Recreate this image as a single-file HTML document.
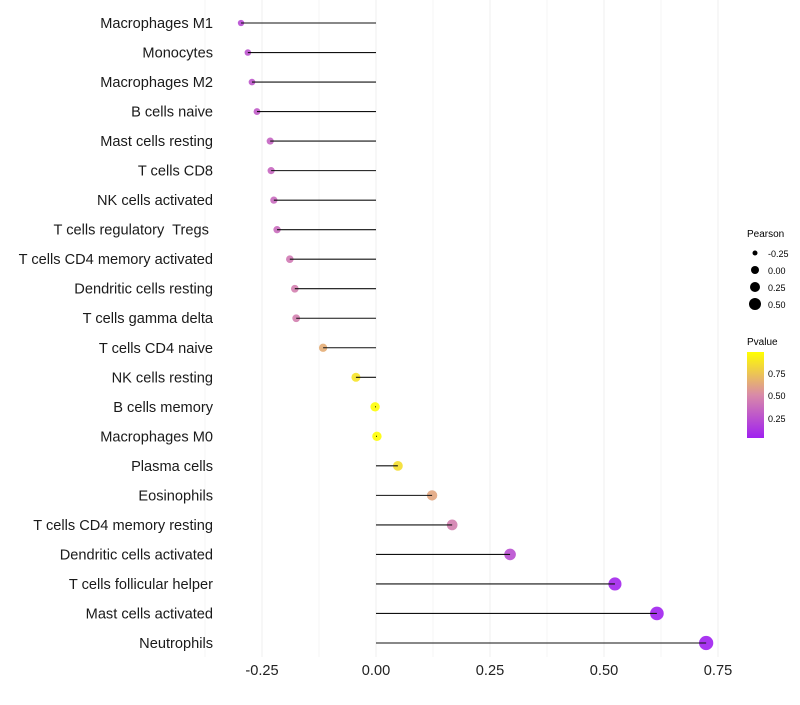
<!DOCTYPE html>
<html><head><meta charset="utf-8"><style>
body{margin:0;background:#fff;font-family:"Liberation Sans",sans-serif}
</style></head><body>
<svg id="chart" width="800" height="700" xmlns="http://www.w3.org/2000/svg" font-family="Liberation Sans, sans-serif">
<defs><linearGradient id="pg" x1="0" y1="1" x2="0" y2="0">
<stop offset="0" stop-color="#a020f0"/><stop offset="0.5" stop-color="#d98aa8"/><stop offset="1" stop-color="#ffff00"/></linearGradient></defs>
<g id="grid"></g>
<g id="marks"></g>
<g id="ylabels"></g>
<g id="xlabels"></g>
<g>
<text x="747" y="237" font-size="10">Pearson</text>
<circle cx="755" cy="253" r="2.5" fill="#000"/><text x="768" y="257" font-size="9">-0.25</text>
<circle cx="755" cy="270" r="4" fill="#000"/><text x="768" y="274" font-size="9">0.00</text>
<circle cx="755" cy="287" r="5" fill="#000"/><text x="768" y="291" font-size="9">0.25</text>
<circle cx="755" cy="304" r="6" fill="#000"/><text x="768" y="308" font-size="9">0.50</text>
</g>
<g>
<text x="747" y="345" font-size="10">Pvalue</text>
<rect x="747" y="352" width="17" height="86" fill="url(#pg)"/>
<text x="768" y="377" font-size="9">0.75</text>
<text x="768" y="399" font-size="9">0.50</text>
<text x="768" y="422" font-size="9">0.25</text>
</g>
</svg>
<script>
const categories=["Macrophages M1","Monocytes","Macrophages M2","B cells naive","Mast cells resting","T cells CD8","NK cells activated","T cells regulatory  Tregs ","T cells CD4 memory activated","Dendritic cells resting","T cells gamma delta","T cells CD4 naive","NK cells resting","B cells memory","Macrophages M0","Plasma cells","Eosinophils","T cells CD4 memory resting","Dendritic cells activated","T cells follicular helper","Mast cells activated","Neutrophils"];
const pearson=[-0.296,-0.281,-0.272,-0.261,-0.232,-0.230,-0.224,-0.217,-0.189,-0.178,-0.175,-0.116,-0.044,-0.002,0.002,0.048,0.123,0.167,0.294,0.524,0.616,0.724];
const pvalues=[0.2,0.24,0.26,0.28,0.32,0.33,0.35,0.36,0.42,0.45,0.45,0.65,0.88,0.99,0.99,0.86,0.62,0.45,0.22,0.03,0.01,0.0];
const xTicks=[-0.25,0,0.25,0.5,0.75];
const xTickLabels=["-0.25","0.00","0.25","0.50","0.75"];
const NS="http://www.w3.org/2000/svg";
const x=v=>376+v*456;
const y=i=>23+i*(620/21);
const rad=v=>Math.sqrt(Math.max(4,22+40*v));
function col(p){const s=[[160,32,240],[217,138,168],[255,255,0]];let t=p*2,a=s[0],b=s[1];if(t>1){t-=1;a=s[1];b=s[2];}
return `rgb(${a.map((c,k)=>Math.round(c+(b[k]-c)*t)).join(",")})`;}
function mk(tag,at,parent){const e=document.createElementNS(NS,tag);for(const k in at)e.setAttribute(k,at[k]);parent.appendChild(e);return e;}
const grid=document.getElementById('grid'),marks=document.getElementById('marks'),yl=document.getElementById('ylabels'),xl=document.getElementById('xlabels');
for(let v=-0.375;v<=0.76;v+=0.125){const g=mk('line',{x1:x(v),x2:x(v),y1:0,y2:657,stroke:'#efefef','stroke-width':Math.abs((v/0.25)%1)<1e-6?1:0.6},grid);

}
xTicks.forEach((v,i)=>{const t=mk('text',{x:x(v),y:675,'font-size':14.6,'text-anchor':'middle',fill:'#222'},xl);t.textContent=xTickLabels[i];

});
categories.forEach((c,i)=>{
const t=mk('text',{x:213,y:y(i)+5,'font-size':14.6,'text-anchor':'end',fill:'#1a1a1a'},yl);t.textContent=c;
t.setAttribute('xml:space','preserve');t.style.whiteSpace='pre';


const d=mk('circle',{cx:x(pearson[i]),cy:y(i),r:rad(pearson[i]),fill:col(pvalues[i]),'fill-opacity':0.9},marks);


const l=mk('line',{x1:x(0),x2:x(pearson[i]),y1:y(i),y2:y(i),stroke:'#111','stroke-width':1.1},marks);


});
</script>
</body></html>
